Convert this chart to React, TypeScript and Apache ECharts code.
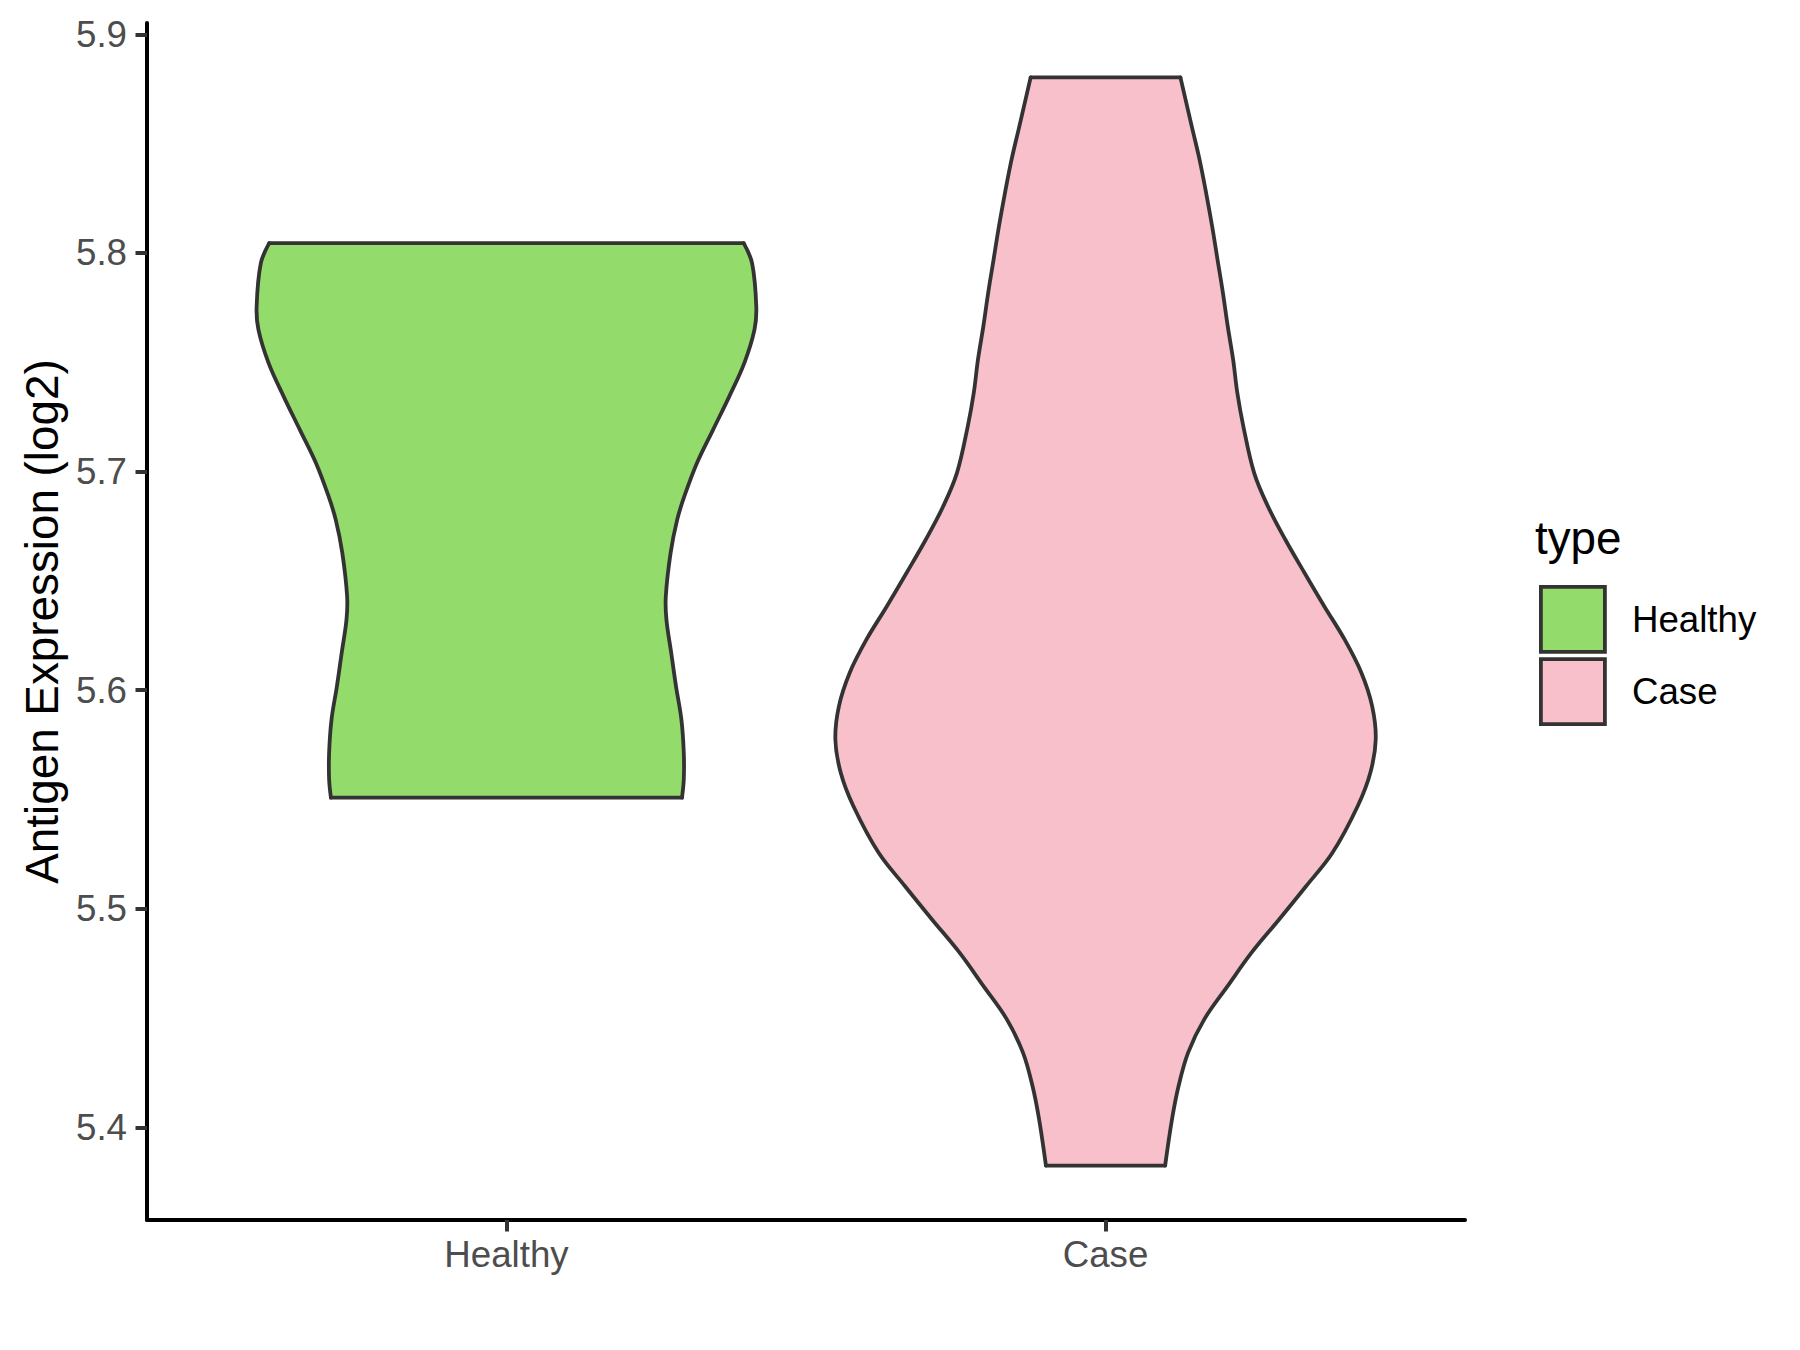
import React, { useEffect, useRef } from "react";
import * as echarts from "echarts";

const categories = ["Healthy", "Case"];
const categoryPositions = [1, 2];
const fillColors = ["#93DC6B", "#F7C0CB"];
const yTicks = [5.4, 5.5, 5.6, 5.7, 5.8, 5.9];

// Violin outlines: value (log2) and half-width (in x units)
const healthyY = [5.8045, 5.7953, 5.7755, 5.7649, 5.7496, 5.7344, 5.7192, 5.7039, 5.6887, 5.678, 5.6628, 5.643, 5.6323, 5.6171, 5.6018, 5.5866, 5.5714, 5.5592, 5.5508];
const healthyHW = [0.396, 0.41, 0.417, 0.414, 0.397, 0.372, 0.345, 0.318, 0.297, 0.285, 0.274, 0.266, 0.267, 0.275, 0.283, 0.292, 0.296, 0.296, 0.293];

const caseY = [5.8803, 5.8578, 5.8426, 5.8273, 5.8121, 5.7968, 5.7816, 5.7664, 5.7511, 5.7359, 5.7207, 5.6994, 5.6841, 5.6689, 5.6537, 5.6384, 5.6232, 5.608, 5.5927, 5.5775, 5.5622, 5.547, 5.5257, 5.5104, 5.4952, 5.48, 5.4647, 5.4495, 5.4343, 5.419, 5.4038, 5.3825];
const caseHW = [0.125, 0.144, 0.157, 0.168, 0.178, 0.187, 0.196, 0.204, 0.213, 0.22, 0.23, 0.248, 0.271, 0.3, 0.332, 0.365, 0.399, 0.427, 0.445, 0.451, 0.442, 0.421, 0.379, 0.335, 0.29, 0.244, 0.204, 0.165, 0.138, 0.122, 0.111, 0.0995];

const violinYs = [healthyY, caseY];
const violinHWs = [healthyHW, caseHW];

const FONT = "Liberation Sans, Arial, Helvetica, sans-serif";
const OUTLINE = "#333333";

function makeRenderItem(idx: number) {
  return (params: any, api: any) => {
    const ys = violinYs[idx];
    const hws = violinHWs[idx];
    const xc = categoryPositions[idx];
    const left: number[][] = [];
    const right: number[][] = [];
    for (let i = 0; i < ys.length; i++) {
      left.push(api.coord([xc - hws[i], ys[i]]));
      right.push(api.coord([xc + hws[i], ys[i]]));
    }
    const poly = left.concat(right.slice().reverse());
    const lineStyle = { stroke: OUTLINE, lineWidth: 3.8, fill: null, lineJoin: "round", lineCap: "round" };
    const n = ys.length - 1;
    return {
      type: "group",
      children: [
        { type: "polygon", shape: { points: poly }, style: { fill: fillColors[idx], stroke: null } },
        { type: "polyline", shape: { points: left, smooth: 0.36 }, style: lineStyle },
        { type: "polyline", shape: { points: right, smooth: 0.36 }, style: lineStyle },
        { type: "line", shape: { x1: left[0][0], y1: left[0][1], x2: right[0][0], y2: right[0][1] }, style: lineStyle },
        { type: "line", shape: { x1: left[n][0], y1: left[n][1], x2: right[n][0], y2: right[n][1] }, style: lineStyle },
      ],
    };
  };
}

export default function App() {
  const ref = useRef<HTMLDivElement>(null);
  useEffect(() => {
    if (!ref.current) return;
    const chart = echarts.init(ref.current, null, { renderer: "svg" });
    chart.setOption({
      animation: false,
      backgroundColor: "#FFFFFF",
      textStyle: { fontFamily: FONT },
      grid: { left: 147, top: 23, width: 1318, height: 1197, containLabel: false, outerBoundsMode: "none" },
      xAxis: {
        type: "value",
        min: 0.4,
        max: 2.6,
        axisLine: { show: true, onZero: false, lineStyle: { color: "#000000", width: 4 } },
        axisTick: { show: true, customValues: categoryPositions, length: 11.5, lineStyle: { color: OUTLINE, width: 4 } },
        axisLabel: {
          show: true,
          customValues: categoryPositions,
          formatter: (v: number) => categories[Math.round(v) - 1] ?? "",
          fontSize: 36.7,
          color: "#4D4D4D",
          fontFamily: FONT,
          margin: 15.5,
        },
        splitLine: { show: false },
      },
      yAxis: {
        type: "value",
        min: 5.3576,
        max: 5.9052,
        name: "Antigen Expression (log2)",
        nameLocation: "middle",
        nameGap: 82,
        nameTextStyle: { fontSize: 45.8, color: "#000000", fontFamily: FONT },
        axisLine: { show: true, onZero: false, lineStyle: { color: "#000000", width: 4 } },
        axisTick: { show: true, customValues: yTicks, length: 11.5, lineStyle: { color: OUTLINE, width: 4 } },
        axisLabel: {
          show: true,
          customValues: yTicks,
          formatter: (v: number) => v.toFixed(1),
          fontSize: 36.7,
          color: "#4D4D4D",
          fontFamily: FONT,
          margin: 20,
        },
        splitLine: { show: false },
      },
      legend: {
        orient: "vertical",
        left: 1539,
        top: 585,
        padding: 0,
        itemWidth: 64,
        itemHeight: 65,
        itemGap: 3.5,
        icon: "rect",
        selectedMode: false,
        textStyle: { fontSize: 36.7, color: "#000000", fontFamily: FONT, padding: [0, 0, 0, 22] },
        data: categories.map((c, i) => ({
          name: c,
          icon: "rect",
          itemStyle: { color: fillColors[i], borderColor: OUTLINE, borderWidth: 3.8 },
        })),
      },
      graphic: [
        {
          type: "text",
          left: 1535,
          top: 515,
          style: { text: "type", fontSize: 45.8, fill: "#000000", fontFamily: FONT },
        },
      ],
      series: categories.map((c, i) => ({
        type: "custom",
        name: c,
        itemStyle: { color: fillColors[i] },
        renderItem: makeRenderItem(i),
        data: [[categoryPositions[i]]],
        encode: { x: 0 },
      })),
    });
    return () => chart.dispose();
  }, []);
  return (
    <div
      ref={ref}
      style={{ position: "absolute", left: 0, top: 0, width: 1800, height: 1350, background: "#FFFFFF" }}
    />
  );
}
